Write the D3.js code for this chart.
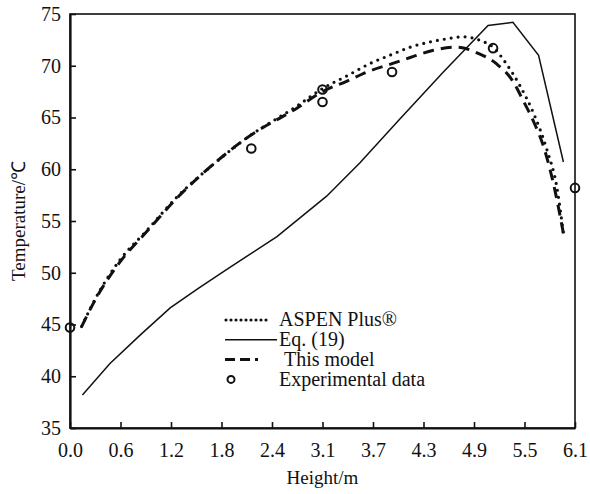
<!DOCTYPE html>
<html>
<head>
<meta charset="utf-8">
<script src="https://cdn.jsdelivr.net/npm/d3@7"></script>
<style>
  body { margin: 0; background: #fff; }
  text { font-family: "Liberation Serif", "Times New Roman", serif; fill: #111; }
</style>
</head>
<body>
<svg width="590" height="494"></svg>
<script>
// tick labels (ticks fall every 0.61 m, printed with one decimal)
var xTickLabels = ["0.0", "0.6", "1.2", "1.8", "2.4", "3.1", "3.7", "4.3", "4.9", "5.5", "6.1"];
var yTicks = [35, 40, 45, 50, 55, 60, 65, 70, 75];

// ASPEN Plus (dotted)
var aspenH = [0.14, 0.32, 0.6, 0.93, 1.29, 1.69, 2.13, 2.74, 3.05, 3.34, 3.62, 3.89, 4.11, 4.35, 4.55, 4.75, 4.97, 5.11, 5.27, 5.44, 5.6, 5.76, 5.88, 5.96];
var aspenT = [44.8, 47.7, 51.2, 54.1, 57.3, 60.2, 63.0, 66.1, 67.8, 69.0, 70.2, 71.1, 71.8, 72.3, 72.6, 72.8, 72.4, 71.8, 70.2, 68.0, 65.4, 61.9, 58.3, 53.8];

// Eq. (19) (solid)
var eqH = [0.15, 0.48, 0.85, 1.21, 1.55, 1.89, 2.5, 3.1, 3.5, 3.99, 4.51, 5.05, 5.35, 5.66, 5.96];
var eqT = [38.2, 41.2, 44.0, 46.6, 48.5, 50.3, 53.5, 57.4, 60.6, 64.9, 69.4, 73.9, 74.2, 71.0, 60.7];

// This model (dashed)
var modelH = [0.14, 0.32, 0.6, 0.93, 1.29, 1.69, 2.13, 2.74, 3.05, 3.34, 3.62, 3.89, 4.11, 4.39, 4.67, 4.93, 5.15, 5.35, 5.47, 5.6, 5.72, 5.84, 5.96];
var modelT = [44.8, 47.6, 51.0, 54.0, 57.2, 60.2, 63.0, 65.9, 67.5, 68.5, 69.5, 70.2, 70.8, 71.5, 71.8, 71.2, 70.2, 68.5, 66.7, 64.6, 62.2, 58.6, 53.8];

// Experimental data (circles)
var expH = [0.0, 2.19, 3.05, 3.05, 3.89, 5.11, 6.1];
var expT = [44.7, 62.0, 67.7, 66.5, 69.4, 71.7, 58.2];

var legendLabels = ["ASPEN Plus\u00AE", "Eq. (19)", "This model", "Experimental data"];

var svg = d3.select("svg"),
    margin = {top: 14, right: 15, bottom: 66, left: 70},
    width = +svg.attr("width") - margin.left - margin.right,
    height = +svg.attr("height") - margin.top - margin.bottom;

var x = d3.scaleLinear().domain([0, 6.1]).range([0, width]),
    y = d3.scaleLinear().domain([35, 75]).range([height, 0]);

var g = svg.append("g")
    .attr("transform", "translate(" + margin.left + "," + margin.top + ")");

var xTickVals = xTickLabels.map(function(d, i) { return i * 0.61; });

// frame (top + right)
g.append("rect")
    .attr("width", width).attr("height", height)
    .attr("fill", "none").attr("stroke", "#111").attr("stroke-width", 1.6);

var xAxis = g.append("g")
    .attr("transform", "translate(0," + height + ")")
    .call(d3.axisBottom(x).tickValues(xTickVals)
      .tickFormat(function(d, i) { return xTickLabels[i]; })
      .tickSizeInner(-6).tickSizeOuter(0).tickPadding(15));

var yAxis = g.append("g")
    .call(d3.axisLeft(y).tickValues(yTicks)
      .tickSizeInner(-6).tickSizeOuter(0).tickPadding(9));

[xAxis, yAxis].forEach(function(a) {
  a.select(".domain").attr("stroke", "#111").attr("stroke-width", 2.2);
  a.selectAll(".tick line").attr("stroke", "#111").attr("stroke-width", 1.6);
  a.selectAll(".tick text").attr("font-size", 20).attr("font-family", "Liberation Serif").attr("fill", "#111");
});

// axis titles
svg.append("text")
    .attr("x", margin.left + width / 2).attr("y", 484)
    .attr("text-anchor", "middle").attr("font-size", 19)
    .text("Height/m");

svg.append("text")
    .attr("transform", "translate(25," + (margin.top + height / 2) + ") rotate(-90)")
    .attr("text-anchor", "middle").attr("font-size", 19)
    .text("Temperature/\u2103");

function pts(hs, ts) { return hs.map(function(h, i) { return [h, ts[i]]; }); }

var smooth = d3.line().x(function(d) { return x(d[0]); }).y(function(d) { return y(d[1]); })
    .curve(d3.curveMonotoneX);
var straight = d3.line().x(function(d) { return x(d[0]); }).y(function(d) { return y(d[1]); });

g.append("path").datum(pts(eqH, eqT))
    .attr("d", straight).attr("fill", "none")
    .attr("stroke", "#111").attr("stroke-width", 1.5);

g.append("path").datum(pts(modelH, modelT))
    .attr("d", smooth).attr("fill", "none")
    .attr("stroke", "#111").attr("stroke-width", 3)
    .attr("stroke-dasharray", "11,7");

g.append("path").datum(pts(aspenH, aspenT))
    .attr("d", smooth).attr("fill", "none")
    .attr("stroke", "#111").attr("stroke-width", 3.2)
    .attr("stroke-linecap", "round")
    .attr("stroke-dasharray", "0,7");

g.selectAll(".exp")
    .data(pts(expH, expT))
  .enter().append("circle")
    .attr("class", "exp")
    .attr("cx", function(d) { return x(d[0]); })
    .attr("cy", function(d) { return y(d[1]); })
    .attr("r", 4.3)
    .attr("fill", "none").attr("stroke", "#111").attr("stroke-width", 2);

// legend
var legend = svg.append("g").attr("transform", "translate(225,320)");
var row = legend.selectAll(".row")
    .data(legendLabels)
  .enter().append("g")
    .attr("class", "row")
    .attr("transform", function(d, i) { return "translate(0," + (i * 19.8) + ")"; });

row.append("text")
    .attr("x", function(d, i) { return i == 2 ? 59 : 54; })
    .attr("dy", "0.32em")
    .attr("font-size", 20)
    .text(function(d) { return d; });

legend.append("line").attr("x1", 1).attr("x2", 46).attr("y1", 0).attr("y2", 0)
    .attr("stroke", "#111").attr("stroke-width", 3.2).attr("stroke-linecap", "round")
    .attr("stroke-dasharray", "0,5");
legend.append("line").attr("x1", 0).attr("x2", 52).attr("y1", 19.8).attr("y2", 19.8)
    .attr("stroke", "#111").attr("stroke-width", 1.5);
legend.append("line").attr("x1", 0).attr("x2", 52).attr("y1", 39.6).attr("y2", 39.6)
    .attr("stroke", "#111").attr("stroke-width", 3)
    .attr("stroke-dasharray", "10,5,10,5,3,20");
legend.append("circle").attr("cx", 6).attr("cy", 59.4).attr("r", 3.5)
    .attr("fill", "none").attr("stroke", "#111").attr("stroke-width", 2);
</script>
</body>
</html>
